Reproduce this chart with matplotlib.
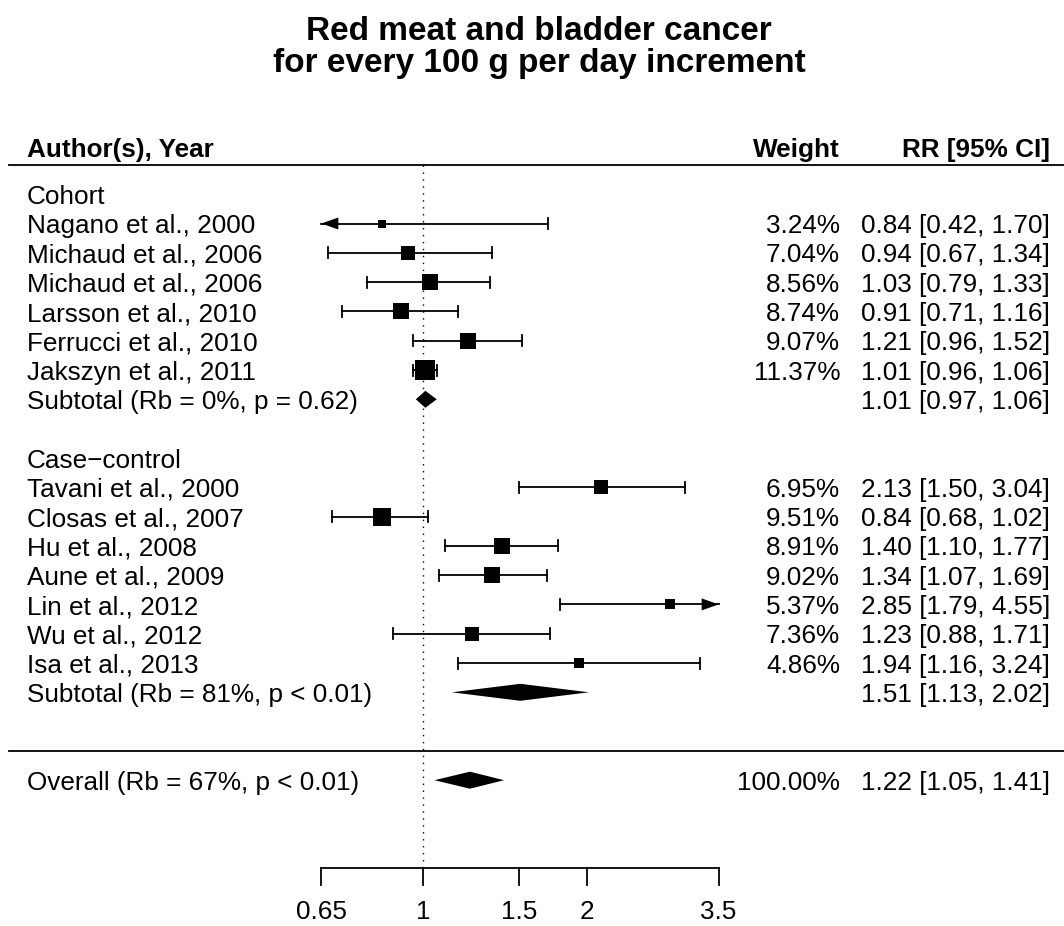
import numpy as np
import matplotlib
matplotlib.use("Agg")
import matplotlib.pyplot as plt

plt.rcParams['font.family'] = ['Liberation Sans', 'DejaVu Sans']

# cohort studies
coh_labels = ["Nagano et al., 2000", "Michaud et al., 2006", "Michaud et al., 2006",
              "Larsson et al., 2010", "Ferrucci et al., 2010", "Jakszyn et al., 2011"]
coh_rr = [0.84, 0.94, 1.03, 0.91, 1.21, 1.01]
coh_lo = [0.42, 0.67, 0.79, 0.71, 0.96, 0.96]
coh_hi = [1.70, 1.34, 1.33, 1.16, 1.52, 1.06]
coh_w = [3.24, 7.04, 8.56, 8.74, 9.07, 11.37]

# case-control studies
cc_labels = ["Tavani et al., 2000", "Closas et al., 2007", "Hu et al., 2008",
             "Aune et al., 2009", "Lin et al., 2012", "Wu et al., 2012", "Isa et al., 2013"]
cc_rr = [2.13, 0.84, 1.40, 1.34, 2.85, 1.23, 1.94]
cc_lo = [1.50, 0.68, 1.10, 1.07, 1.79, 0.88, 1.16]
cc_hi = [3.04, 1.02, 1.77, 1.69, 4.55, 1.71, 3.24]
cc_w = [6.95, 9.51, 8.91, 9.02, 5.37, 7.36, 4.86]

# pooled estimates: label, rr, lo, hi
sub_coh = ("Subtotal (Rb = 0%, p = 0.62)", 1.01, 0.97, 1.06)
sub_cc = ("Subtotal (Rb = 81%, p < 0.01)", 1.51, 1.13, 2.02)
overall = ("Overall (Rb = 67%, p < 0.01)", 1.22, 1.05, 1.41, 100.00)

ticks = [0.65, 1, 1.5, 2, 3.5]
alim = (0.65, 3.5)

W, H = 1064, 926
x0, sx = 423, 236.0      # pixel of RR=1 and pixels per ln unit
y0, sy = 223.5, 29.3     # pixel of first study row and row height
fig = plt.figure(figsize=(W / 100, H / 100), dpi=100)
ax = fig.add_axes([0, 0, 1, 1])
ax.set_xlim(-x0 / sx, (W - x0) / sx)
ax.set_ylim((H - y0) / sy, -y0 / sy)
ax.axis('off')

fs = 18.8
lw = 1.3
px = 1.0 / sx           # one pixel in x data units
py = 1.0 / sy           # one pixel in row units
base = 0.33             # baseline offset below row centre
xl, xw, xr = (27 - x0) / sx, (840 - x0) / sx, (1050 - x0) / sx

wmin = min(coh_w + cc_w)
wmax = max(coh_w + cc_w)
lmin, lmax = np.log(alim[0]), np.log(alim[1])


def study(row, lab, rr, lo, hi, w):
    ax.text(xl, row + base, lab, fontsize=fs, va='baseline', ha='left')
    ax.text(xw, row + base, f"{w:.2f}%", fontsize=fs, va='baseline', ha='right')
    ax.text(xr, row + base, f"{rr:.2f} [{lo:.2f}, {hi:.2f}]", fontsize=fs,
            va='baseline', ha='right')
    a, b = np.log(lo), np.log(hi)
    ax.plot([max(a, lmin), min(b, lmax)], [row, row], color='black', lw=lw)
    for end, lim, sgn in ((a, lmin, -1), (b, lmax, 1)):
        if (sgn < 0 and end < lim) or (sgn > 0 and end > lim):
            ax.fill([lim, lim - sgn * 17 * px, lim - sgn * 17 * px],
                    [row, row - 6 * py, row + 6 * py], color='black', lw=0)
        else:
            ax.plot([end, end], [row - 5.5 * py, row + 5.5 * py], color='black', lw=lw)
    size = 13.0 * (0.55 + (w - wmin) / (wmax - wmin))
    ax.plot(np.log(rr), row, 's', color='black', ms=size * 0.72, mew=0)


def pooled(row, lab, rr, lo, hi, w=None):
    ax.text(xl, row + base, lab, fontsize=fs, va='baseline', ha='left')
    if w is not None:
        ax.text(xw, row + base, f"{w:.2f}%", fontsize=fs, va='baseline', ha='right')
    ax.text(xr, row + base, f"{rr:.2f} [{lo:.2f}, {hi:.2f}]", fontsize=fs,
            va='baseline', ha='right')
    h = 8.5 * py
    ax.fill([np.log(lo), np.log(rr), np.log(hi), np.log(rr)],
            [row, row - h, row, row + h], color='black', lw=0)


# headers
ax.text(xl, -2.27, "Author(s), Year", fontsize=fs, fontweight='bold', va='baseline')
ax.text(xw, -2.27, "Weight", fontsize=fs, fontweight='bold', va='baseline', ha='right')
ax.text(xr, -2.27, "RR [95% CI]", fontsize=fs, fontweight='bold', va='baseline', ha='right')
ax.plot([(9 - x0) / sx, (W - x0) / sx], [-2, -2], color='black', lw=lw)

# cohort block
ax.text(xl, -1 + base, "Cohort", fontsize=fs, va='baseline')
for i in range(len(coh_labels)):
    study(i, coh_labels[i], coh_rr[i], coh_lo[i], coh_hi[i], coh_w[i])
pooled(len(coh_labels), *sub_coh)

# case-control block
r0 = len(coh_labels) + 3
ax.text(xl, r0 - 1 + base, "Case\u2212control", fontsize=fs, va='baseline')
for i in range(len(cc_labels)):
    study(r0 + i, cc_labels[i], cc_rr[i], cc_lo[i], cc_hi[i], cc_w[i])
pooled(r0 + len(cc_labels), *sub_cc)

# overall
r1 = r0 + len(cc_labels) + 3
ax.plot([(9 - x0) / sx, (W - x0) / sx], [r1 - 1, r1 - 1], color='black', lw=lw)
pooled(r1, *overall)

# reference line and axis
r_ax = r1 + 3
ax.plot([0, 0], [-2, r_ax], color='black', lw=1, linestyle=(0, (1, 4)))
ax.plot([lmin, lmax], [r_ax, r_ax], color='black', lw=lw)
for t in ticks:
    ax.plot([np.log(t)] * 2, [r_ax, r_ax + 17 * py], color='black', lw=lw)
    ax.text(np.log(t), r_ax + 1.9, f"{t:g}", fontsize=fs, ha='center', va='bottom')

# title
fig.text(539 / W, 1 - 40 / H, "Red meat and bladder cancer", fontsize=24,
         fontweight='bold', ha='center', va='baseline')
fig.text(539 / W, 1 - 72 / H, "for every 100 g per day increment", fontsize=24,
         fontweight='bold', ha='center', va='baseline')

fig.savefig("out.png", dpi=100)
